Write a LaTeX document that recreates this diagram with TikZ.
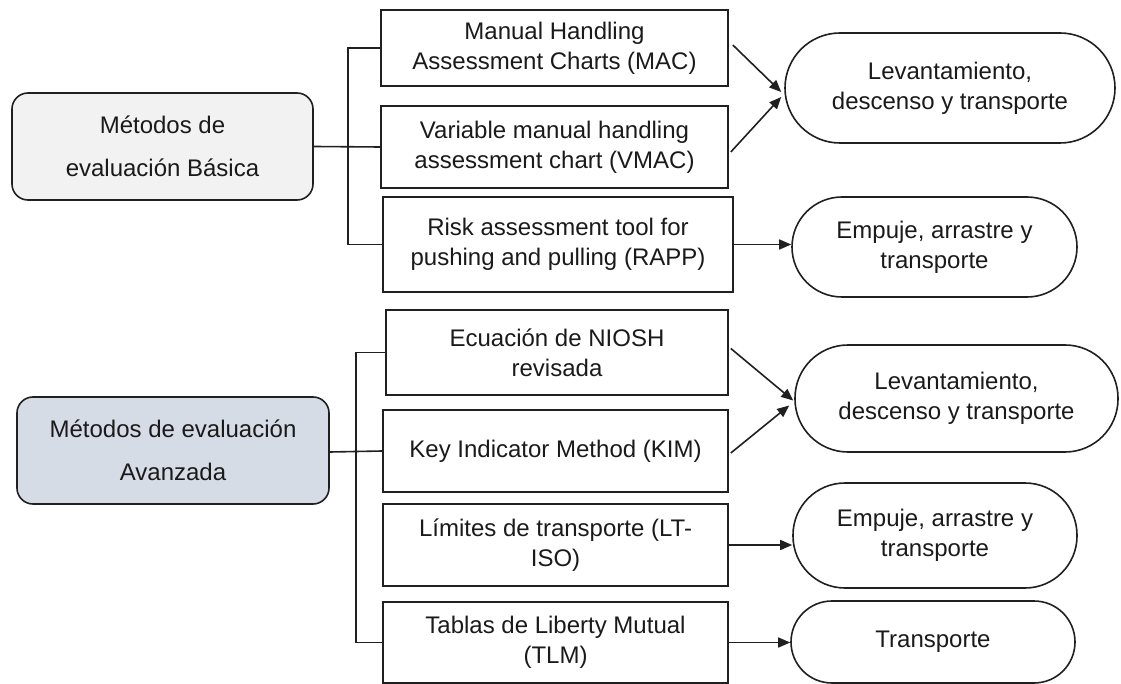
\documentclass[tikz,border=0pt]{standalone}
\usepackage{fontspec}
\setmainfont{Liberation Sans}
\usetikzlibrary{arrows.meta,calc}
\definecolor{basicfill}{HTML}{F2F2F2}
\definecolor{advfill}{HTML}{D6DCE5}
\definecolor{edge}{HTML}{202020}
\definecolor{txt}{HTML}{1A1A1A}
\begin{document}
\begin{tikzpicture}[x=1pt,y=-1pt,
  base/.style={draw=edge,line width=1.6pt,align=center,text=txt,inner sep=0pt,
    font=\fontsize{24}{30}\selectfont},
  catbox/.style={base,rounded corners=16pt,font=\fontsize{24}{43}\selectfont},
  methbox/.style={base},
  outbox/.style={base},
  link/.style={draw=edge,line width=1.6pt},
  arr/.style={link,-{Triangle[length=12pt,width=10pt]}}]
\useasboundingbox (0,0) rectangle (1121,684);
% categories
\node[catbox,fill=basicfill,minimum width=301pt,minimum height=107pt] (basic) at (162.5,146.5) {Métodos de\\evaluación Básica};
\node[catbox,fill=advfill,minimum width=312pt,minimum height=107pt] (adv) at (173,450.5) {Métodos de evaluación\\Avanzada};
% methods (basic)
\node[methbox,minimum width=347pt,minimum height=76pt] (mac) at (554.5,48) {Manual Handling\\Assessment Charts (MAC)};
\node[methbox,minimum width=347pt,minimum height=82pt] (vmac) at (554.5,147) {Variable manual handling\\assessment chart (VMAC)};
\node[methbox,minimum width=350pt,minimum height=95pt] (rapp) at (558,244.5) {Risk assessment tool for\\pushing and pulling (RAPP)};
% methods (advanced)
\node[methbox,minimum width=342pt,minimum height=85pt] (niosh) at (557,352.5) {Ecuación de NIOSH\\revisada};
\node[methbox,minimum width=345pt,minimum height=82pt] (kim) at (555.5,451) {Key Indicator Method (KIM)};
\node[methbox,minimum width=345pt,minimum height=82pt] (lt) at (555.5,545) {Límites de transporte (LT-\\ISO)};
\node[methbox,minimum width=345pt,minimum height=81pt] (tlm) at (555.5,642.5) {Tablas de Liberty Mutual\\(TLM)};
% outcomes
\node[outbox,minimum width=330pt,minimum height=110pt,rounded corners=55pt] (lev1) at (950,88) {Levantamiento,\\descenso y transporte};
\node[outbox,minimum width=285pt,minimum height=100pt,rounded corners=50pt] (emp1) at (934.5,247) {Empuje, arrastre y\\transporte};
\node[outbox,minimum width=323pt,minimum height=107pt,rounded corners=53pt] (lev2) at (956.5,398.5) {Levantamiento,\\descenso y transporte};
\node[outbox,minimum width=284pt,minimum height=105pt,rounded corners=52pt] (emp2) at (935,535.5) {Empuje, arrastre y\\transporte};
\node[outbox,minimum width=284pt,minimum height=82pt,rounded corners=41pt] (tra) at (933,642) {Transporte};
% tree connectors
\coordinate (jb) at (348,147);
\coordinate (ja) at (356,452);
\draw[link] (basic.east) -- (vmac.west);
\draw[link] (mac.west) -- (mac.west -| jb) -- (rapp.west -| jb) -- (rapp.west);
\draw[link] (adv.east |- ja) -- (kim.west);
\draw[link] (niosh.west) -- (niosh.west -| ja) -- (tlm.west -| ja) -- (tlm.west);
% arrows
\draw[arr] ($(mac.east)+(4,-3)$) -- ($(lev1.west)+(-3,4)$);
\draw[arr] ($(vmac.east)+(2,5)$) -- ($(lev1.west)+(-3,9)$);
\draw[arr] (rapp.east) -- (emp1.west |- rapp.east);
\draw[arr] ($(niosh.east)+(2,-4)$) -- ($(lev2.west)+(-1,2)$);
\draw[arr] ($(kim.east)+(2,2)$) -- ($(lev2.west)+(-5,7)$);
\draw[arr] (lt.east) -- (emp2.west |- lt.east);
\draw[arr] (tlm.east) -- (tra.west |- tlm.east);
\end{tikzpicture}
\end{document}
